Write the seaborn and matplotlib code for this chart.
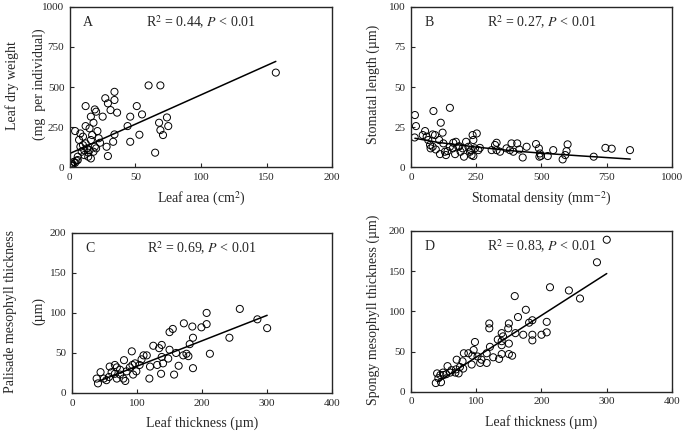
import numpy as np
import pandas as pd
import seaborn as sns
import matplotlib.pyplot as plt

# panel A: leaf area (cm2) vs leaf dry weight (mg per individual)
a_area = [157, 60, 69, 34, 27, 29, 34, 31, 36, 25, 51, 55, 46, 12, 19, 16, 20, 74, 68, 75,
          69, 71, 44, 34, 53, 46, 33, 28, 29, 65, 4, 12, 15, 21, 18, 8, 10, 17, 8, 12,
          16, 19, 20, 15, 9, 11, 14, 16, 6, 6, 4, 1, 1, 2, 3, 18, 23, 13, 10, 7,
          5, 2, 14, 22, 11]
a_weight = [590, 510, 510, 470, 430, 398, 419, 356, 340, 315, 381, 329, 315, 381, 360, 315, 346, 310, 277, 256,
            231, 200, 256, 204, 202, 158, 158, 127, 69, 90, 225, 256, 242, 225, 277, 210, 190, 200, 127, 148,
            169, 127, 117, 106, 96, 75, 65, 54, 65, 44, 27, 23, 12, 8, 33, 96, 152, 117, 137, 170,
            40, 18, 90, 180, 105]
a_fit_x = [0, 157]
a_fit_y = [85, 660]

# panel B: stomatal density (mm-2) vs stomatal length (um)
b_density = [15, 19, 14, 86, 149, 114, 121, 54, 45, 60, 83, 92, 66, 73, 83, 75, 108, 124, 111, 130,
             134, 149, 162, 172, 160, 169, 181, 190, 198, 211, 220, 226, 232, 239, 236, 252, 245, 258, 264, 239,
             203, 309, 322, 328, 328, 341, 366, 385, 407, 392, 379, 415, 428, 443, 479, 490, 494, 498, 492, 524,
             545, 581, 591, 596, 600, 700, 745, 769, 839, 95, 140, 185, 230]
b_length = [32.5, 25.6, 18.5, 35, 37, 27.7, 21.5, 22.5, 20, 19, 20.4, 20, 16.9, 13.8, 12.7, 11.7, 16.9, 14.8, 8.1, 9.6,
            7.5, 12.7, 15.2, 15.8, 11.7, 8.1, 12.7, 9.6, 11.7, 15.8, 12.7, 9.6, 7.5, 16.9, 20, 21, 11.7, 10.6, 12, 6.9,
            6.5, 10.6, 13.8, 15.2, 10.6, 9.6, 11.7, 14.8, 14.8, 9.6, 10.6, 11, 6, 12.7, 14.4, 11.7, 8.5, 7, 6.5, 6.9,
            10.6, 4.8, 7.5, 10, 14.2, 6.5, 12, 11.5, 10.6, 11, 10, 13, 10.5]
b_fit_x = [15, 100, 250, 400, 500, 650, 840]
b_fit_y = [18.0, 15.5, 12.5, 10.0, 8.7, 7.0, 5.0]

# panel C: leaf thickness (um) vs palisade mesophyll thickness (um)
c_leaf = [258, 207, 285, 300, 172, 155, 150, 185, 199, 207, 186, 242, 181, 125, 138, 134, 150, 160, 171, 176,
          179, 212, 186, 164, 157, 137, 119, 92, 110, 115, 107, 80, 138, 140, 131, 120, 148, 97, 93, 89,
          66, 69, 61, 44, 38, 40, 49, 53, 57, 66, 74, 79, 82, 94, 99, 84, 104, 69, 74, 58]
c_palisade = [105, 100, 92, 81, 87, 80, 76, 83, 82, 86, 69, 69, 61, 59, 60, 56, 54, 50, 47, 49,
              46, 49, 31, 34, 23, 24, 18, 52, 47, 47, 42, 41, 45, 37, 35, 33, 43, 37, 35, 32,
              35, 32, 26, 26, 18, 12, 18, 16, 20, 24, 23, 18, 15, 23, 27, 27, 35, 18, 29, 33]
c_fit_x = [42, 300]
c_fit_y = [15, 97]

# panel D: leaf thickness (um) vs spongy mesophyll thickness (um)
d_leaf = [300, 285, 213, 242, 259, 159, 176, 164, 150, 186, 181, 208, 208, 200, 186, 186, 172, 160, 120, 120,
          149, 139, 133, 139, 141, 139, 150, 150, 155, 139, 135, 126, 116, 116, 108, 106, 98, 96, 94, 93,
          88, 81, 79, 80, 70, 69, 68, 73, 60, 56, 54, 50, 45, 42, 40, 38, 46, 49, 62, 75,
          102, 121]
d_spongy = [189, 161, 130, 126, 116, 119, 102, 93, 85, 89, 86, 87, 74, 71, 71, 64, 71, 73, 85, 79,
            79, 73, 65, 63, 69, 58, 60, 47, 45, 47, 41, 43, 48, 36, 40, 36, 62, 52, 45, 34,
            48, 48, 38, 29, 40, 28, 24, 23, 24, 32, 22, 21, 21, 17, 23, 11, 12, 24, 27, 31,
            44, 56]
d_fit_x = [42, 300]
d_fit_y = [13, 147]

sns.set_style("ticks")
plt.rcParams['font.family'] = ['Liberation Serif', 'DejaVu Serif']
plt.rcParams['mathtext.fontset'] = 'stix'

fig = plt.figure(figsize=(6.85, 4.34), dpi=100)
ax_a = fig.add_axes([0.102, 0.615, 0.383, 0.369])
ax_b = fig.add_axes([0.600, 0.615, 0.381, 0.369])
ax_c = fig.add_axes([0.105, 0.0945, 0.380, 0.369])
ax_d = fig.add_axes([0.600, 0.097, 0.381, 0.371])

panels = [
    (ax_a, a_area, a_weight, a_fit_x, a_fit_y, "A", "R$^2$ = 0.44, $P$ < 0.01",
     (0, 200), [0, 50, 100, 150, 200], (0, 1000), [0, 250, 500, 750, 1000],
     "Leaf area (cm$^2$)"),
    (ax_b, b_density, b_length, b_fit_x, b_fit_y, "B", "R$^2$ = 0.27, $P$ < 0.01",
     (0, 1000), [0, 250, 500, 750, 1000], (0, 100), [0, 25, 50, 75, 100],
     "Stomatal density (mm$^{-2}$)"),
    (ax_c, c_leaf, c_palisade, c_fit_x, c_fit_y, "C", "R$^2$ = 0.69, $P$ < 0.01",
     (0, 400), [0, 100, 200, 300, 400], (0, 200), [0, 50, 100, 150, 200],
     "Leaf thickness (\u00b5m)"),
    (ax_d, d_leaf, d_spongy, d_fit_x, d_fit_y, "D", "R$^2$ = 0.83, $P$ < 0.01",
     (0, 400), [0, 100, 200, 300, 400], (0, 200), [0, 50, 100, 150, 200],
     "Leaf thickness (\u00b5m)"),
]

for ax, xs, ys, fx, fy, letter, stat, xlim, xt, ylim, yt, xlab in panels:
    sns.scatterplot(x=xs, y=ys, ax=ax, marker="o", s=26, facecolors="none",
                    edgecolor="black", linewidth=0.7)
    sns.lineplot(x=fx, y=fy, ax=ax, color="black", linewidth=1.1)
    ax.set_xlim(xlim)
    ax.set_ylim(ylim)
    ax.set_xticks(xt)
    ax.set_yticks(yt)
    ax.tick_params(direction="in", length=3, width=0.8, labelsize=8, pad=4)
    for sp in ax.spines.values():
        sp.set_linewidth(1.0)
        sp.set_visible(True)
    ax.text(0.05, 0.905, letter, transform=ax.transAxes, fontsize=10, va="center")
    ax.text(0.50, 0.905, stat, transform=ax.transAxes, fontsize=10, va="center", ha="center")
    ax.set_xlabel(xlab, fontsize=10, labelpad=6)

# y labels placed on the figure so the two-line ones keep their spacing
ylab_kw = dict(rotation=90, ha="center", va="center", fontsize=10)
fig.text(0.017, 0.802, "Leaf dry weight", **ylab_kw)
fig.text(0.058, 0.806, "(mg  per individual)", **ylab_kw)
fig.text(0.545, 0.806, "Stomatal length (\u00b5m)", **ylab_kw)
fig.text(0.016, 0.283, "Palisade mesophyll thickness", **ylab_kw)
fig.text(0.057, 0.283, "(\u00b5m)", **ylab_kw)
fig.text(0.545, 0.286, "Spongy mesophyll thickness (\u00b5m)", **ylab_kw)

fig.savefig("out.png", dpi=100)
